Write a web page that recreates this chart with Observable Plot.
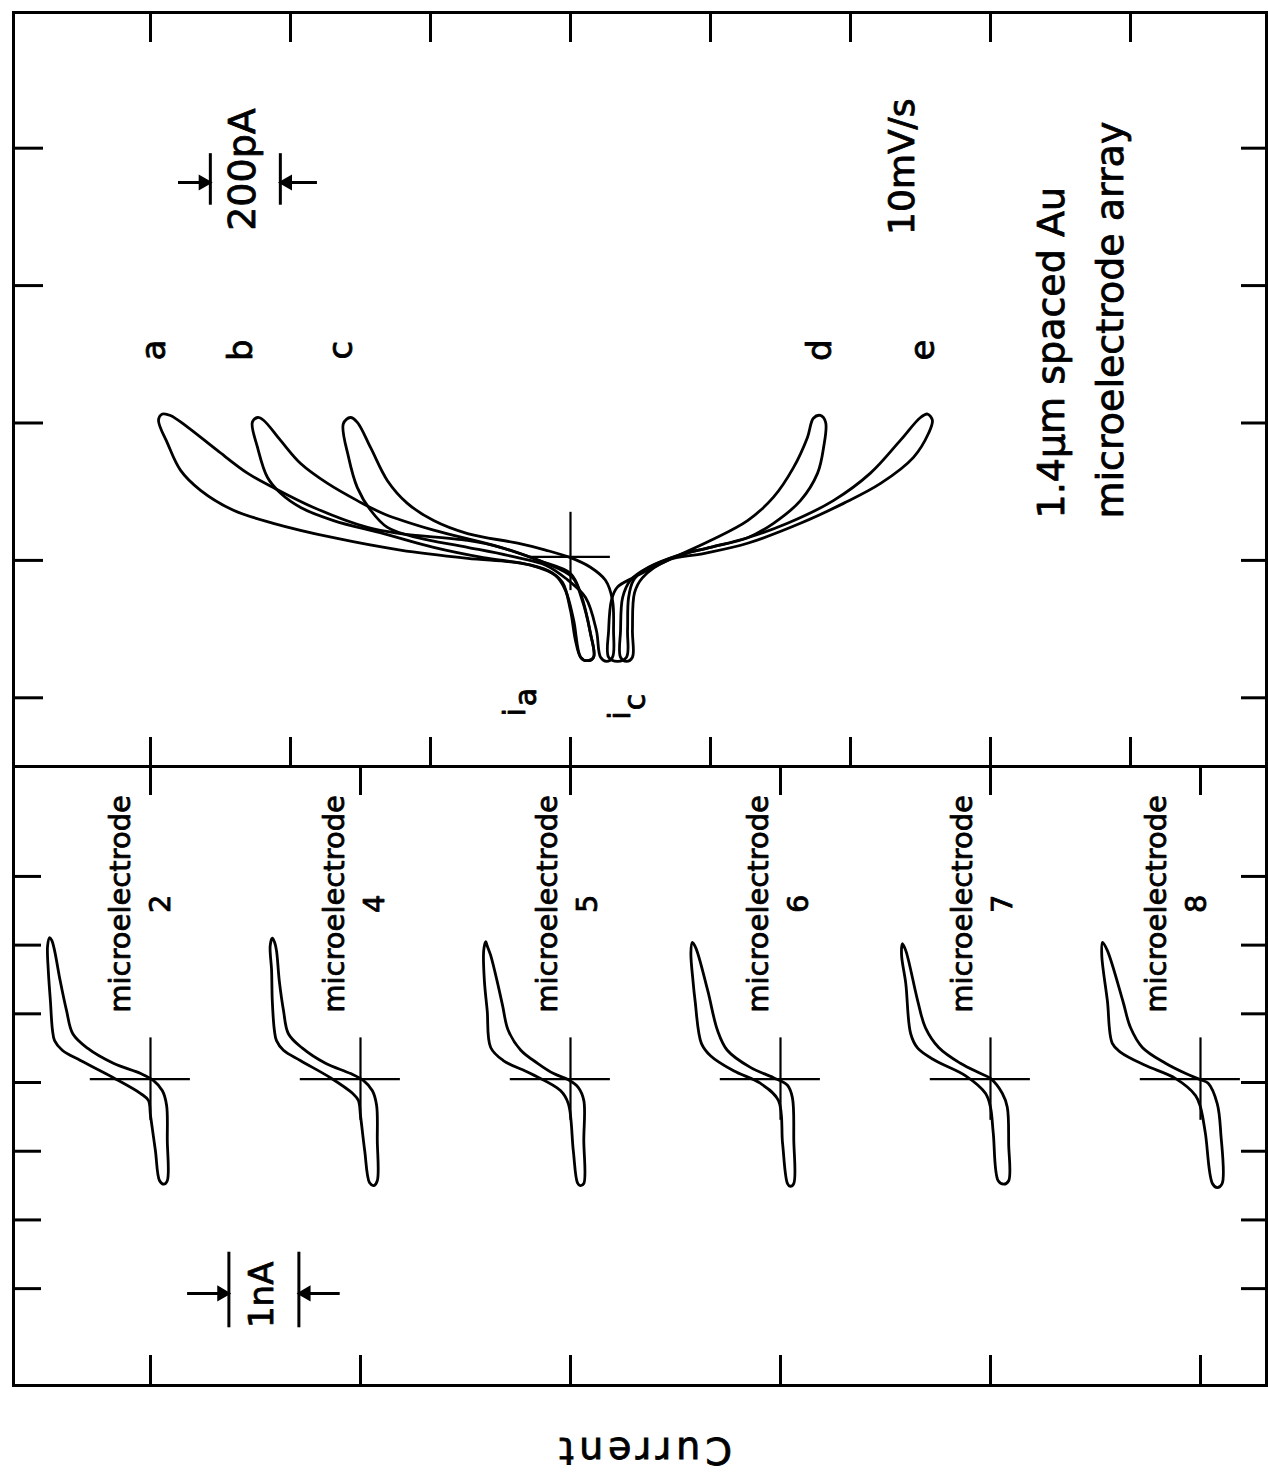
<!DOCTYPE html>
<html><head><meta charset="utf-8">
<script src="https://cdn.jsdelivr.net/npm/d3@7"></script>
<script src="https://cdn.jsdelivr.net/npm/@observablehq/plot@0.6"></script>
<style>
body{margin:0;background:#fff;}
#fig{position:relative;width:1268px;height:1475px;font-family:"DejaVu Sans",sans-serif;color:#000;}
#top,#bottom{position:absolute;left:0;}
#top{top:0}
#bottom{top:752px}
#ylabel{position:absolute;left:543px;width:200px;top:1428px;text-align:center;font-size:38px;letter-spacing:5px;transform:rotate(180deg);line-height:46px;-webkit-text-stroke:0.8px #000;}
</style></head><body>
<div id="fig"><div id="top"></div><div id="bottom"></div><div id="ylabel">Current</div></div>
<script>
// ---------------- data ----------------
// Potential E in mV runs vertically (up = positive); current runs horizontally
// (top panel in pA, bottom panel in nA, cathodic to the right).
const topTickCurrent = [-1200, -800, -400, 0, 400, 800, 1200, 1600];   // pA
const topTickPotential = [-200, 0, 200, 400, 600];                      // mV
const bottomTickPotential = [-300, -200, -100, 0, 100, 200, 300];       // mV
const electrodes = ["2", "4", "5", "6", "7", "8"];
const electrodeOffset = [0, 3, 6, 9, 12, 15];                           // nA shift per electrode
const electrodeLabelShift = [-0.19, -0.13, -0.09, -0.08, -0.16, -0.39]; // nA
const electrodeLabelPotential = 260;                                    // mV

// top panel traces: [current pA, potential mV]
const traceA = [[66,-141],[57,-106],[29,-48],[0,-19],[-86,-1],[-200,19],[-294,29],[-486,39],[-580,48],[-734,77],[-849,106],[-923,127],[-1009,160],[-1094,194],[-1143,211],[-1166,213],[-1177,204],[-1151,170],[-1114,131],[-1057,102],[-963,73],[-849,54],[-677,33],[-486,15],[-294,3],[-143,-4],[-63,-15],[-23,-32],[0,-73],[14,-116],[29,-141],[46,-146]];
const traceB = [[66,-141],[57,-106],[31,-54],[6,-25],[-71,-4],[-200,19],[-391,44],[-534,68],[-609,87],[-694,112],[-771,141],[-829,175],[-877,204],[-894,208],[-909,201],[-894,164],[-866,121],[-829,98],[-771,77],[-677,58],[-534,39],[-391,19],[-249,4],[-114,-7],[-43,-22],[-14,-44],[9,-87],[29,-141],[46,-146]];
const traceC = [[120,-141],[123,-102],[120,-58],[100,-29],[57,-10],[0,4],[-71,15],[-151,25],[-294,39],[-391,58],[-466,83],[-523,116],[-571,164],[-609,201],[-629,208],[-649,199],[-634,150],[-609,106],[-571,73],[-523,48],[-437,33],[-294,19],[-151,4],[-71,-7],[-14,-26],[43,-54],[74,-102],[86,-141],[103,-147]];
const traceD = [[109,-141],[109,-102],[117,-58],[134,-39],[180,-25],[277,0],[400,29],[506,58],[580,92],[637,135],[677,179],[694,207],[714,211],[729,201],[723,164],[706,127],[657,87],[580,54],[506,33],[400,19],[306,7],[209,-15],[180,-29],[166,-54],[163,-102],[160,-141],[134,-147]];
const traceE = [[143,-141],[143,-102],[149,-54],[171,-29],[223,-10],[306,7],[400,19],[506,33],[620,54],[751,87],[857,127],[943,175],[1000,208],[1020,213],[1034,204],[1023,185],[980,150],[886,112],[780,83],[657,54],[506,25],[380,10],[277,0],[206,-25],[183,-47],[177,-102],[177,-141],[160,-147]];
const topNames = ["a", "b", "c", "d", "e"];
const topLetterCurrent = [-1190, -940, -655, 712, 1008];               // pA
const topLetterPotential = [306, 306, 306, 306, 306];                   // mV

// bottom panel traces: [current nA, potential mV]
const trace2 = [[0.24,-143],[0.24,-84],[0.23,-33],[0.17,-12],[0.04,3],[-0.14,13],[-0.53,28],[-0.90,50],[-1.11,71],[-1.20,105],[-1.29,148],[-1.37,192],[-1.41,207],[-1.44,211],[-1.47,199],[-1.46,163],[-1.43,119],[-1.40,76],[-1.37,61],[-1.26,47],[-1.00,32],[-0.53,7],[-0.14,-16],[-0.03,-26],[0.0,-48],[0.07,-99],[0.13,-143],[0.19,-148]];
const trace4 = [[0.24,-143],[0.24,-84],[0.23,-33],[0.17,-12],[0.04,3],[-0.14,13],[-0.50,28],[-0.83,50],[-1.03,71],[-1.10,105],[-1.16,148],[-1.20,192],[-1.23,205],[-1.26,210],[-1.29,199],[-1.27,163],[-1.26,119],[-1.23,76],[-1.20,61],[-1.10,47],[-0.86,32],[-0.43,7],[-0.11,-16],[-0.03,-26],[0,-48],[0.06,-99],[0.13,-146],[0.19,-150]];
const trace5 = [[0.19,-147],[0.19,-84],[0.19,-26],[0.11,-7],[-0.03,4],[-0.24,13],[-0.47,28],[-0.71,47],[-0.89,76],[-0.97,112],[-1.04,144],[-1.14,185],[-1.19,199],[-1.21,205],[-1.24,192],[-1.23,148],[-1.19,105],[-1.14,51],[-0.96,32],[-0.57,13],[-0.14,-12],[-0.03,-31],[0.04,-99],[0.10,-146],[0.14,-150]];
const trace6 = [[0.19,-147],[0.19,-84],[0.17,-22],[0.10,-4],[-0.10,7],[-0.43,22],[-0.76,47],[-0.90,76],[-1.04,134],[-1.21,196],[-1.26,204],[-1.28,189],[-1.25,148],[-1.22,119],[-1.13,57],[-1.00,39],[-0.67,17],[-0.29,-1],[-0.03,-26],[0.03,-89],[0.10,-147],[0.14,-151]];
const trace7 = [[0.26,-143],[0.26,-90],[0.24,-36],[0.17,-16],[0,6],[-0.14,13],[-0.43,28],[-0.74,51],[-0.93,80],[-1.04,119],[-1.21,192],[-1.26,202],[-1.27,185],[-1.21,144],[-1.14,71],[-1.04,50],[-0.79,32],[-0.36,10],[-0.07,-16],[0,-36],[0.04,-74],[0.11,-143],[0.19,-148]];
const trace8 = [[0.31,-147],[0.29,-74],[0.24,-31],[0.11,-1],[0,4],[-0.21,13],[-0.50,28],[-0.83,51],[-1.0,80],[-1.11,119],[-1.33,192],[-1.40,204],[-1.41,185],[-1.33,119],[-1.26,57],[-1.14,44],[-0.79,25],[-0.36,6],[-0.07,-19],[0,-36],[0.07,-74],[0.17,-147],[0.24,-153]];

// reference crosses
const crossPotential = 5;                       // mV
const crossTopCurrent = [-114, 114];            // pA
const crossTopPotential = [70, -44];            // mV
const crossBottomCurrent = [-0.86, 0.57];       // nA
const crossBottomPotential = [65, -55];         // mV

// scale bars
const barTopCurrent = [-1029, -829];            // 200 pA apart
const barTopPotential = [517, 592];
const barTopArrowPotential = 550;
const barTopArrowTail = [-1120, -723];
const barBottomCurrent = [1.12, 2.12];          // 1 nA apart
const barBottomPotential = [-247, -357];
const barBottomArrowPotential = -307;
const barBottomArrowTail = [0.53, 2.71];

const FONT = "DejaVu Sans, sans-serif";
const INK = {fill: "black", stroke: "black", strokeWidth: 0.8, fontFamily: FONT};

// ---------------- build ----------------
const topSeries = [traceA, traceB, traceC, traceD, traceE];
const topRows = topSeries.flatMap((pts, k) => pts.map(([i, E]) => ({trace: topNames[k], i, E})));
const bottomSeries = [trace2, trace4, trace5, trace6, trace7, trace8];
const bottomRows = bottomSeries.flatMap((pts, k) => pts.map(([i, E]) => ({trace: electrodes[k], i: i + electrodeOffset[k], E})));
const topLetters = topNames.map((t, k) => ({t, i: topLetterCurrent[k], E: topLetterPotential[k]}));
const electrodeLabels = electrodes.map((n, k) => ({t: "microelectrode\n" + n, i: electrodeOffset[k] + electrodeLabelShift[k], E: electrodeLabelPotential}));

const TW = 1253, TH = 754, BW = 1253, BH = 619;

const topPlot = Plot.plot({
  width: 1268, height: 780, marginLeft: 13, marginRight: 2, marginTop: 12, marginBottom: 14,
  style: {overflow: "visible", background: "transparent", fontFamily: FONT},
  x: {domain: [-1591.4, 1988.6], axis: null},
  y: {domain: [-300, 797.5], axis: null},
  marks: [
    Plot.frame({strokeWidth: 3}),
    Plot.tickX(topTickCurrent, {x: d => d, insetBottom: TH - 30, strokeWidth: 3}),
    Plot.tickX(topTickCurrent, {x: d => d, insetTop: TH - 29, strokeWidth: 3}),
    Plot.tickY(topTickPotential, {y: d => d, insetRight: TW - 30, strokeWidth: 3}),
    Plot.tickY(topTickPotential, {y: d => d, insetLeft: TW - 25, strokeWidth: 3}),
    Plot.line(topRows, {x: "i", y: "E", z: "trace", curve: "catmull-rom-closed", strokeWidth: 2.8, stroke: "black"}),
    Plot.ruleY([crossPotential], {y: d => d, x1: () => crossTopCurrent[0], x2: () => crossTopCurrent[1], strokeWidth: 2.2}),
    Plot.ruleX([0], {x: d => d, y1: () => crossTopPotential[0], y2: () => crossTopPotential[1], strokeWidth: 2.2}),
    // 200 pA scale bar
    Plot.ruleX(barTopCurrent, {x: d => d, y1: () => barTopPotential[0], y2: () => barTopPotential[1], strokeWidth: 3}),
    Plot.ruleY([0, 1], {y: () => barTopArrowPotential, x1: k => barTopArrowTail[k], x2: k => barTopCurrent[k], strokeWidth: 3}),
    Plot.dot([barTopCurrent[0]], {x: d => d, y: () => barTopArrowPotential, symbol: "triangle", r: 6, fill: "black", stroke: "none", rotate: 90, dx: -7}),
    Plot.dot([barTopCurrent[1]], {x: d => d, y: () => barTopArrowPotential, symbol: "triangle", r: 6, fill: "black", stroke: "none", rotate: -90, dx: 7}),
    Plot.text(["200pA"], {x: () => -937, y: () => 569, text: d => d, rotate: -90, fontSize: 38, ...INK}),
    Plot.text(["10mV/s"], {x: () => 949, y: () => 573, text: d => d, rotate: -90, fontSize: 36, ...INK}),
    Plot.text(["1.4\u03bcm spaced Au\nmicroelectrode array"], {x: () => 1440, y: () => 61, text: d => d, rotate: -90, fontSize: 38, lineHeight: 1.55, textAnchor: "start", ...INK}),
    Plot.text(topLetters, {x: "i", y: "E", text: "t", rotate: -90, fontSize: 34, ...INK}),
    Plot.text(["i", "i"], {x: (d, k) => [-157, 143][k], y: (d, k) => [-221, -226][k], text: d => d, rotate: -90, fontSize: 30, ...INK}),
    Plot.text(["a", "c"], {x: (d, k) => [-125, 186][k], y: (d, k) => [-199, -206][k], text: d => d, rotate: -90, fontSize: 30, ...INK})
  ]
});
document.getElementById("top").append(topPlot);

const bottomPlot = Plot.plot({
  width: 1268, height: 643, marginLeft: 13, marginRight: 2, marginTop: 14, marginBottom: 10,
  style: {overflow: "visible", background: "transparent", fontFamily: FONT},
  x: {domain: [-1.957, 15.943], axis: null},
  y: {domain: [-441, 460], axis: null},
  marks: [
    Plot.frame({strokeWidth: 3}),
    Plot.tickX(electrodeOffset, {x: d => d, insetBottom: BH - 29, strokeWidth: 3}),
    Plot.tickX(electrodeOffset, {x: d => d, insetTop: BH - 30, strokeWidth: 3}),
    Plot.tickY(bottomTickPotential, {y: d => d, insetRight: BW - 28, strokeWidth: 3}),
    Plot.tickY(bottomTickPotential, {y: d => d, insetLeft: BW - 25, strokeWidth: 3}),
    Plot.line(bottomRows, {x: "i", y: "E", z: "trace", curve: "catmull-rom-closed", strokeWidth: 2.8, stroke: "black"}),
    Plot.ruleY(electrodeOffset, {y: () => crossPotential, x1: d => d + crossBottomCurrent[0], x2: d => d + crossBottomCurrent[1], strokeWidth: 2.2}),
    Plot.ruleX(electrodeOffset, {x: d => d, y1: () => crossBottomPotential[0], y2: () => crossBottomPotential[1], strokeWidth: 2.2}),
    Plot.text(electrodeLabels, {x: "i", y: "E", text: "t", rotate: -90, fontSize: 29, lineHeight: 1.38, ...INK}),
    // 1 nA scale bar
    Plot.ruleX(barBottomCurrent, {x: d => d, y1: () => barBottomPotential[0], y2: () => barBottomPotential[1], strokeWidth: 3}),
    Plot.ruleY([0, 1], {y: () => barBottomArrowPotential, x1: k => barBottomArrowTail[k], x2: k => barBottomCurrent[k], strokeWidth: 3}),
    Plot.dot([barBottomCurrent[0]], {x: d => d, y: () => barBottomArrowPotential, symbol: "triangle", r: 6, fill: "black", stroke: "none", rotate: 90, dx: -7}),
    Plot.dot([barBottomCurrent[1]], {x: d => d, y: () => barBottomArrowPotential, symbol: "triangle", r: 6, fill: "black", stroke: "none", rotate: -90, dx: 7}),
    Plot.text(["1nA"], {x: () => 1.59, y: () => -309, text: d => d, rotate: -90, fontSize: 34, ...INK})
  ]
});
document.getElementById("bottom").append(bottomPlot);
</script>
</body></html>
